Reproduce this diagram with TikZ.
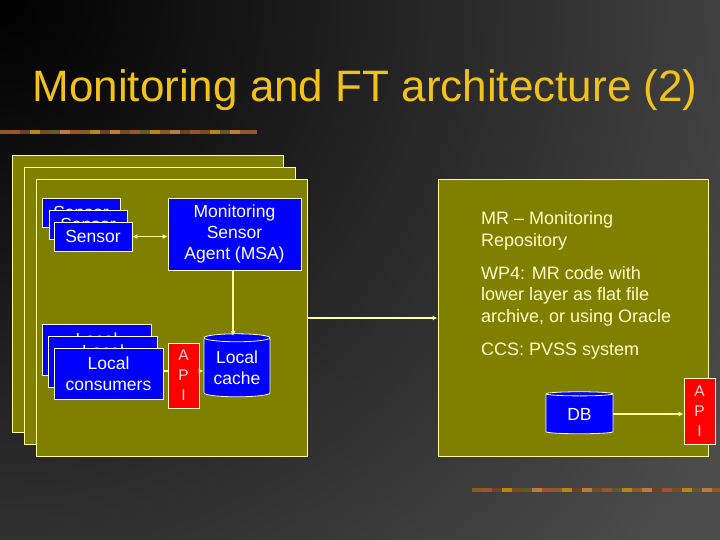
\documentclass[tikz,border=0pt]{standalone}
\usepackage{fontspec}
\setmainfont{Liberation Sans}
\usetikzlibrary{arrows.meta,shapes.geometric}
\definecolor{bg}{HTML}{4C4C4C}
\definecolor{olivef}{HTML}{808000}
\definecolor{paley}{HTML}{FFFF99}
\definecolor{textY}{HTML}{FFFFCC}
\definecolor{titleY}{HTML}{F2C21A}
\definecolor{bluef}{HTML}{0000FF}
\definecolor{redf}{HTML}{FF0000}
\definecolor{apit}{HTML}{FFD8D8}
\definecolor{bA}{HTML}{8B5A2B}
\definecolor{bB}{HTML}{A0522D}
\definecolor{bC}{HTML}{6B4226}
\definecolor{bD}{HTML}{B8860B}
\definecolor{bE}{HTML}{7A4A20}
\definecolor{bF}{HTML}{5E5A2A}
\definecolor{bG}{HTML}{C07A3A}
\tikzset{
  olivebox/.style={draw=paley, fill=olivef, line width=1pt},
  bluebox/.style={draw=textY, fill=bluef, line width=0.8pt, text=white, font=\fontsize{17.5}{21}\selectfont, align=center, inner sep=0pt},
  apibox/.style={draw=textY, fill=redf, line width=0.8pt, text=apit, font=\fontsize{15.5}{20}\selectfont, align=center, inner sep=0pt, minimum width=31, minimum height=65},
  cyl/.style={cylinder, shape border rotate=90, aspect=0.17, draw=textY, fill=bluef, line width=0.8pt, text=white, font=\fontsize{17.5}{21}\selectfont, align=center, inner sep=0pt},
  conn/.style={draw=paley, line width=1.4pt},
  tip/.style={-{Latex[length=5pt,width=5pt]}},
  mrtext/.style={text=textY, font=\fontsize{18}{21.6}\selectfont, anchor=base west, inner sep=0pt}
}
\begin{document}
\begin{tikzpicture}[x=1pt,y=-1pt]
\useasboundingbox (0,0) rectangle (720,540);
\fill[bg] (0,0) rectangle (720,540);
\begin{scope}
\clip (0,0) rectangle (720,540);
\shade[inner color=black, outer color=bg] (0,0) circle (850);
\end{scope}
% decorative bars
\foreach \i/\c in {0/bA,1/bB,2/bC,3/bD,4/bE,5/bF,6/bG,7/bB,8/bA,9/bD,10/bC,11/bG,12/bE,13/bB,14/bF,15/bD,16/bA,17/bG,18/bC,19/bB,20/bE,21/bD,22/bF,23/bG,24/bA,25/bB}
  {\fill[\c] ({\i*10},130) rectangle ({min(\i*10+10,257)},134);}
\foreach \i/\c in {0/bA,1/bB,2/bC,3/bD,4/bE,5/bF,6/bG,7/bB,8/bA,9/bD,10/bC,11/bG,12/bE,13/bB,14/bF,15/bD,16/bA,17/bG,18/bC,19/bB,20/bE,21/bD,22/bF,23/bG,24/bA}
  {\fill[\c] ({472+\i*10},488) rectangle ({min(482+\i*10,720)},492);}
% title
\node[anchor=base, text=titleY, font=\fontsize{44}{50}\selectfont, inner sep=0pt] (title) at (365,102) {Monitoring and FT architecture (2)};
% stacked frames
\node[olivebox, minimum width=271, minimum height=276] (f1) at (147.5,294) {};
\node[olivebox, minimum width=271, minimum height=276] (f2) at (159.5,306) {};
\node[olivebox, minimum width=271, minimum height=276] (f3) at (171.5,318) {};
% sensors
\node[bluebox, minimum width=78, minimum height=29] (s1) at (81,212.5) {Sensor};
\node[bluebox, minimum width=78, minimum height=29] (s2) at (88,224.5) {Sensor};
\node[bluebox, minimum width=78, minimum height=29] (s3) at (93,236.5) {Sensor};
\node[bluebox, minimum width=133, minimum height=72] (msa) at (234.5,234) {Monitoring\\Sensor\\Agent (MSA)};
% local consumers
\node[bluebox, minimum width=109, minimum height=51] (lc1) at (96.5,349.5) {Local\\consumers};
\node[bluebox, minimum width=109, minimum height=51] (lc2) at (103,361.5) {Local\\consumers};
\node[bluebox, minimum width=109, minimum height=51] (lc3) at (108.5,373.5) {Local\\consumers};
\node[apibox] (api1) at (183.5,375.5) {A\\P\\I};
\node[cyl, minimum width=66, minimum height=63] (cache) at (237,367.5) {Local\\cache};
% MR
\node[olivebox, minimum width=270, minimum height=276] (mr) at (573,318) {};
\node[mrtext] (t1) at (481,225) {MR – Monitoring};
\node[mrtext] (t2) at (481,246.6) {Repository};
\node[mrtext] (t3) at (481,279) {WP4: MR code with};
\node[mrtext] (t4) at (481,300.6) {lower layer as flat file};
\node[mrtext] (t5) at (481,322.2) {archive, or using Oracle};
\node[mrtext] (t6) at (481,355) {CCS: PVSS system};
\node[cyl, minimum width=67, minimum height=42] (db) at (579.5,414) {DB};
\node[apibox, minimum height=66] (api2) at (699.5,411) {A\\P\\I};
% connectors
\draw[conn, {Latex[length=5pt,width=5pt]}-{Latex[length=5pt,width=5pt]}] (s3.east) -- (msa.west |- s3.east);
\draw[conn, tip] (msa.south -| 233,0) -- (233,336);
\draw[conn] (lc3.east |- 0,371) -- (api1.west |- 0,371);
\draw[conn, tip] (api1.east |- 0,371) -- (cache.west |- 0,371);
\draw[conn, tip] (f3.east) -- (mr.west);
\draw[conn, tip] (db.east) -- (api2.west |- db.east);
\end{tikzpicture}
\end{document}
